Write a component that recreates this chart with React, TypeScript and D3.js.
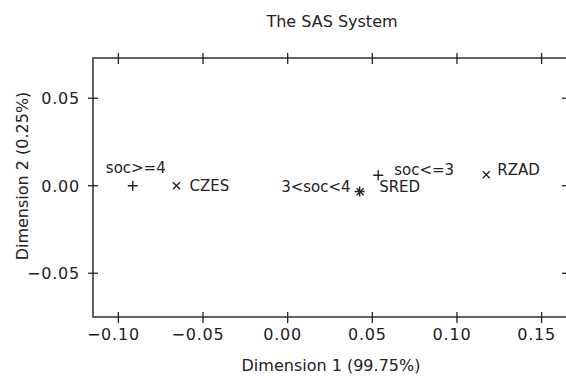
import * as d3 from "d3";
import React from "react";

// row points (+) and column points (x) of the correspondence analysis
const rowNames = ["soc>=4", "3<soc<4", "soc<=3"];
const rowDim1 = [-0.0915, 0.0425, 0.0535];
const rowDim2 = [0.0, -0.0033, 0.006];

const colNames = ["CZES", "SRED", "RZAD"];
const colDim1 = [-0.0657, 0.0428, 0.1173];
const colDim2 = [0.0, -0.0034, 0.0063];

const xTicks = [-0.1, -0.05, 0, 0.05, 0.1, 0.15];
const yTicks = [-0.05, 0, 0.05];

const title = "The SAS System";
const xTitle = "Dimension 1 (99.75%)";
const yTitle = "Dimension 2 (0.25%)";

// where each label sits relative to its mark
const labelPlace: Record<string, { dx: number; dy: number; anchor: string }> = {
  "soc>=4": { dx: 3, dy: -13, anchor: "middle" },
  "3<soc<4": { dx: -9, dy: 0, anchor: "end" },
  "soc<=3": { dx: 16, dy: 0, anchor: "start" },
  CZES: { dx: 13, dy: 5, anchor: "start" },
  SRED: { dx: 19, dy: 0, anchor: "start" },
  RZAD: { dx: 11, dy: 0, anchor: "start" },
};

const W = 566;
const H = 376;
const ink = "#222";
const font = "DejaVu Sans, sans-serif";

export default function App() {
  const x = d3.scaleLinear().domain([-0.115, 0.165]).range([93, 567]);
  const y = d3.scaleLinear().domain([-0.075, 0.073]).range([317, 58]);
  const fmt = d3.format(".2f");
  const [x0, x1] = x.range();
  const [y0, y1] = y.range();

  const rows = rowNames.map((name, i) => ({ name, px: x(rowDim1[i]), py: y(rowDim2[i]) }));
  const cols = colNames.map((name, i) => ({ name, px: x(colDim1[i]), py: y(colDim2[i]) }));

  return (
    <div style={{ position: "absolute", left: 0, top: 0 }}>
      <svg width={W} height={H} style={{ display: "block", background: "#fff" }} fontFamily={font}>
        <text x={332} y={27} textAnchor="middle" fontSize={16} fill={ink}>
          {title}
        </text>

        {/* frame */}
        <rect x={x0} y={y1} width={x1 - x0} height={y0 - y1} fill="none" stroke={ink} strokeWidth={1.4} />

        {/* x ticks, bottom and top */}
        {xTicks.map((t) => (
          <g key={"x" + t}>
            <line x1={x(t)} x2={x(t)} y1={y0 - 5} y2={y0 + 6} stroke={ink} strokeWidth={1.3} />
            <line x1={x(t)} x2={x(t)} y1={y1 - 5} y2={y1 + 6} stroke={ink} strokeWidth={1.3} />
            <text x={x(t) - 5} y={340} textAnchor="middle" fontSize={16} letterSpacing={0.8} fill={ink}>
              {fmt(t)}
            </text>
          </g>
        ))}

        {/* y ticks, left and right */}
        {yTicks.map((t) => (
          <g key={"y" + t}>
            <line x1={x0 - 5} x2={x0 + 5} y1={y(t)} y2={y(t)} stroke={ink} strokeWidth={1.3} />
            <line x1={x1 - 5} x2={x1 + 5} y1={y(t)} y2={y(t)} stroke={ink} strokeWidth={1.3} />
            <text x={80} y={y(t)} dy="0.36em" textAnchor="end" fontSize={16} letterSpacing={0.8} fill={ink}>
              {fmt(t)}
            </text>
          </g>
        ))}

        <text x={331} y={371} textAnchor="middle" fontSize={16} fill={ink}>
          {xTitle}
        </text>
        <text
          transform={`translate(28, 176) rotate(-90)`}
          textAnchor="middle"
          fontSize={16}
          fill={ink}
        >
          {yTitle}
        </text>

        {/* row points: plus */}
        {rows.map((p) => {
          const lp = labelPlace[p.name];
          return (
            <g key={p.name}>
              <path
                d={`M${p.px - 5},${p.py}H${p.px + 5}M${p.px},${p.py - 5}V${p.py + 5}`}
                stroke={ink}
                strokeWidth={1.4}
              />
              <text x={p.px + lp.dx} y={p.py + lp.dy} textAnchor={lp.anchor} fontSize={15} fill={ink}>
                {p.name}
              </text>
            </g>
          );
        })}

        {/* column points: x */}
        {cols.map((p) => {
          const lp = labelPlace[p.name];
          return (
            <g key={p.name}>
              <path
                d={`M${p.px - 3.5},${p.py - 3.5}L${p.px + 3.5},${p.py + 3.5}M${p.px - 3.5},${p.py + 3.5}L${p.px + 3.5},${p.py - 3.5}`}
                stroke={ink}
                strokeWidth={1.4}
              />
              <text x={p.px + lp.dx} y={p.py + lp.dy} textAnchor={lp.anchor} fontSize={15} fill={ink}>
                {p.name}
              </text>
            </g>
          );
        })}
      </svg>
    </div>
  );
}
